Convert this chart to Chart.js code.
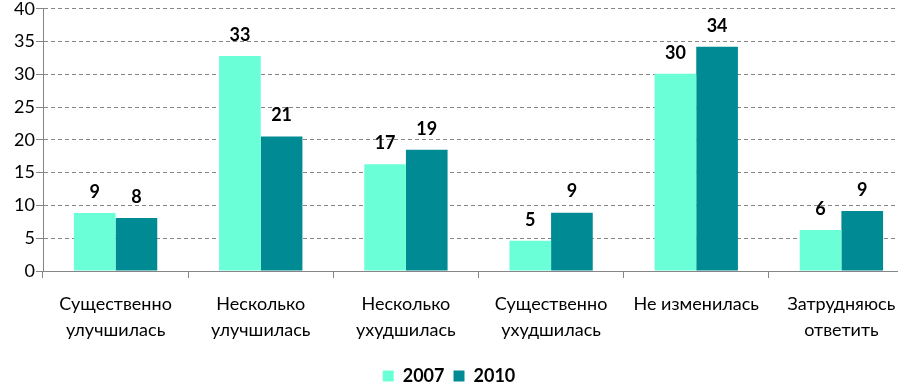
<!DOCTYPE html>
<html>
<head>
<meta charset="utf-8">
<script src="https://cdn.jsdelivr.net/npm/chart.js@4"></script>
<style>
  html, body { margin: 0; padding: 0; background: #fff; overflow: hidden; }
  #wrap { width: 914px; height: 398px; margin-top: -3px; }
</style>
</head>
<body>
<div id="wrap"><canvas id="chart" width="914" height="398"></canvas></div>
<script>
// ---------------- DATA ----------------
const categories = [
  ["Существенно", "улучшилась"],
  ["Несколько", "улучшилась"],
  ["Несколько", "ухудшилась"],
  ["Существенно", "ухудшилась"],
  ["Не изменилась"],
  ["Затрудняюсь", "ответить"],
];
const values2007 = [8.85, 32.8, 16.3, 4.6, 30.1, 6.25];
const values2010 = [8.1, 20.5, 18.5, 8.9, 34.2, 9.15];
const labels2007 = [9, 33, 17, 5, 30, 6];
const labels2010 = [8, 21, 19, 9, 34, 9];
const yTicks = [0, 5, 10, 15, 20, 25, 30, 35, 40];

const fontName = "Lato, 'Open Sans', sans-serif";
const gray = "#868686";

// value labels above bars
const valueLabels = {
  id: "valueLabels",
  afterLayout(chart) {
    // legend is centred on the visible 898px window, not the wider canvas
    chart.legend.left -= 8;
    chart.legend.right -= 8;
  },
  afterDatasetsDraw(chart) {
    const ctx = chart.ctx;
    const texts = [labels2007, labels2010];
    ctx.save();
    ctx.font = "bold 18px " + fontName;
    ctx.fillStyle = "#000";
    ctx.textAlign = "center";
    ctx.textBaseline = "middle";
    chart.data.datasets.forEach((ds, i) => {
      chart.getDatasetMeta(i).data.forEach((bar, j) => {
        ctx.fillText(String(texts[i][j]), bar.x, bar.y - 21);
      });
    });
    ctx.restore();
  },
};

new Chart(document.getElementById("chart"), {
  type: "bar",
  data: {
    labels: categories,
    datasets: [
      { label: "2007", data: values2007, backgroundColor: "#6BFFD8" },
      { label: "2010", data: values2010, backgroundColor: "#008A94" },
    ],
  },
  options: {
    responsive: false,
    animation: false,
    layout: { padding: { top: 4, left: 0, right: 0, bottom: 0 } },
    datasets: {
      bar: { categoryPercentage: 0.574, barPercentage: 1.0 },
    },
    plugins: {
      legend: {
        position: "bottom",
        labels: {
          boxWidth: 11,
          boxHeight: 11,
          padding: 9,
          color: "#000",
          font: { family: fontName, size: 18, weight: "bold" },
        },
      },
      tooltip: { enabled: false },
    },
    scales: {
      x: {
        grid: {
          display: true,
          drawOnChartArea: false,
          tickLength: 7,
          color: gray,
          offset: true,
        },
        border: { color: gray },
        ticks: {
          color: "#000",
          padding: 14,
          maxRotation: 0,
          autoSkip: false,
          font: { family: fontName, size: 18, lineHeight: 1.4 },
        },
        afterFit(scale) { scale.height = 87; },
      },
      y: {
        min: 0,
        max: 40,
        afterBuildTicks(scale) { scale.ticks = yTicks.map((v) => ({ value: v })); },
        grid: {
          color: gray,
          tickLength: 7,
          tickColor: gray,
        },
        border: { color: gray, dash: [4, 3] },
        ticks: {
          color: "#000",
          padding: 1,
          font: { family: fontName, size: 18 },
        },
        afterFit(scale) { scale.width = 43; },
      },
    },
  },
  plugins: [valueLabels],
});
</script>
</body>
</html>
